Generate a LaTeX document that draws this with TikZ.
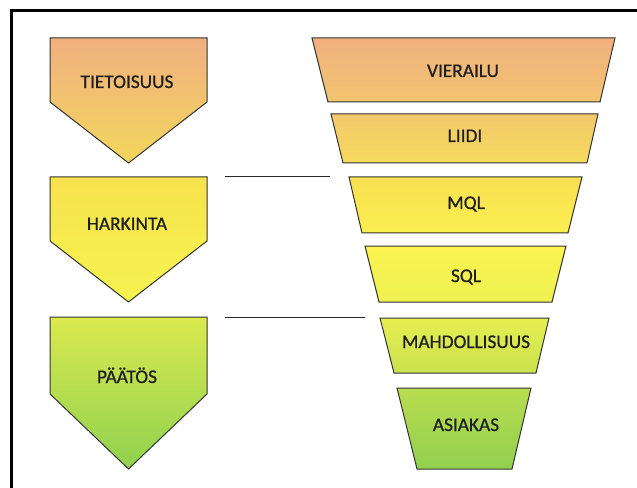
\documentclass[tikz,border=0pt]{standalone}
\usepackage{fontspec}
\setmainfont{Carlito}
\newfontfamily\stagefont[FakeBold=0.7]{Carlito}
\begin{document}
\begin{tikzpicture}[x=1bp,y=-1bp,
  stage/.style={draw=black!80, line width=1bp},
  txt/.style={font=\stagefont\fontsize{19.4}{19.4}\selectfont, text=black!88, inner sep=0pt, anchor=base},
  sep/.style={draw=black!85, line width=1bp}]
\useasboundingbox (0,0) rectangle (637,488);
\fill[white] (0,0) rectangle (637,488);
% outer frame, running off the right and bottom edges
\begin{scope}
  \clip (0,0) rectangle (637,488);
  \draw[line width=3bp] (650,11) -- (11,11) -- (11,500);
\end{scope}

% buying stages (pentagon arrows)
\shadedraw[stage, top color={rgb,255:red,240;green,176;blue,128}, bottom color={rgb,255:red,243;green,214;blue,92}]
  (50,38) -- (207,38) -- (207,102) -- (128.5,163) -- (50,102) -- cycle;
\shadedraw[stage, top color={rgb,255:red,247;green,226;blue,78}, bottom color={rgb,255:red,245;green,244;blue,80}]
  (50,177) -- (207,177) -- (207,241) -- (128.5,302) -- (50,241) -- cycle;
\shadedraw[stage, top color={rgb,255:red,218;green,233;blue,79}, bottom color={rgb,255:red,143;green,209;blue,79}]
  (50,317) -- (207,317) -- (207,394) -- (128.5,469) -- (50,394) -- cycle;

\node[txt] (tietoisuus) at (127,88)  {TIETOISUUS};
\node[txt] (harkinta)   at (127,230) {HARKINTA};
\node[txt] (paatos)     at (127,383) {PÄÄTÖS};

% sales funnel (trapezoids)
\shadedraw[stage, top color={rgb,255:red,240;green,176;blue,128}, bottom color={rgb,255:red,242;green,196;blue,112}]
  (312,38) -- (615,38) -- (600,102) -- (328,102) -- cycle;
\shadedraw[stage, top color={rgb,255:red,243;green,200;blue,106}, bottom color={rgb,255:red,245;green,218;blue,94}]
  (331,114) -- (598,114) -- (587,163) -- (343,163) -- cycle;
\shadedraw[stage, top color={rgb,255:red,248;green,224;blue,82}, bottom color={rgb,255:red,251;green,239;blue,79}]
  (349,177) -- (582,177) -- (568,233) -- (362,233) -- cycle;
\shadedraw[stage, top color={rgb,255:red,251;green,243;blue,80}, bottom color={rgb,255:red,238;green,241;blue,80}]
  (365,246) -- (566,246) -- (552,302) -- (379,302) -- cycle;
\shadedraw[stage, top color={rgb,255:red,230;green,238;blue,80}, bottom color={rgb,255:red,201;green,226;blue,79}]
  (380,318) -- (549,318) -- (536,373) -- (394,373) -- cycle;
\shadedraw[stage, top color={rgb,255:red,184;green,220;blue,79}, bottom color={rgb,255:red,146;green,208;blue,80}]
  (397,388) -- (531,388) -- (512,469) -- (417,469) -- cycle;

\node[txt] (vierailu) at (463,77)  {VIERAILU};
\node[txt] (liidi)    at (465,142) {LIIDI};
\node[txt] (mql)      at (466,209) {MQL};
\node[txt] (sql)      at (466,282) {SQL};
\node[txt] (mahd)     at (466,348) {MAHDOLLISUUS};
\node[txt] (asiakas)  at (466,431) {ASIAKAS};

% boundaries between stages
\coordinate (s1a) at (225,177);
\coordinate (s1b) at (330,177);
\coordinate (s2a) at (225,317);
\coordinate (s2b) at (365,317);
\draw[sep] (s1a) -- (s1b);
\draw[sep] (s2a) -- (s2b);
\end{tikzpicture}
\end{document}
